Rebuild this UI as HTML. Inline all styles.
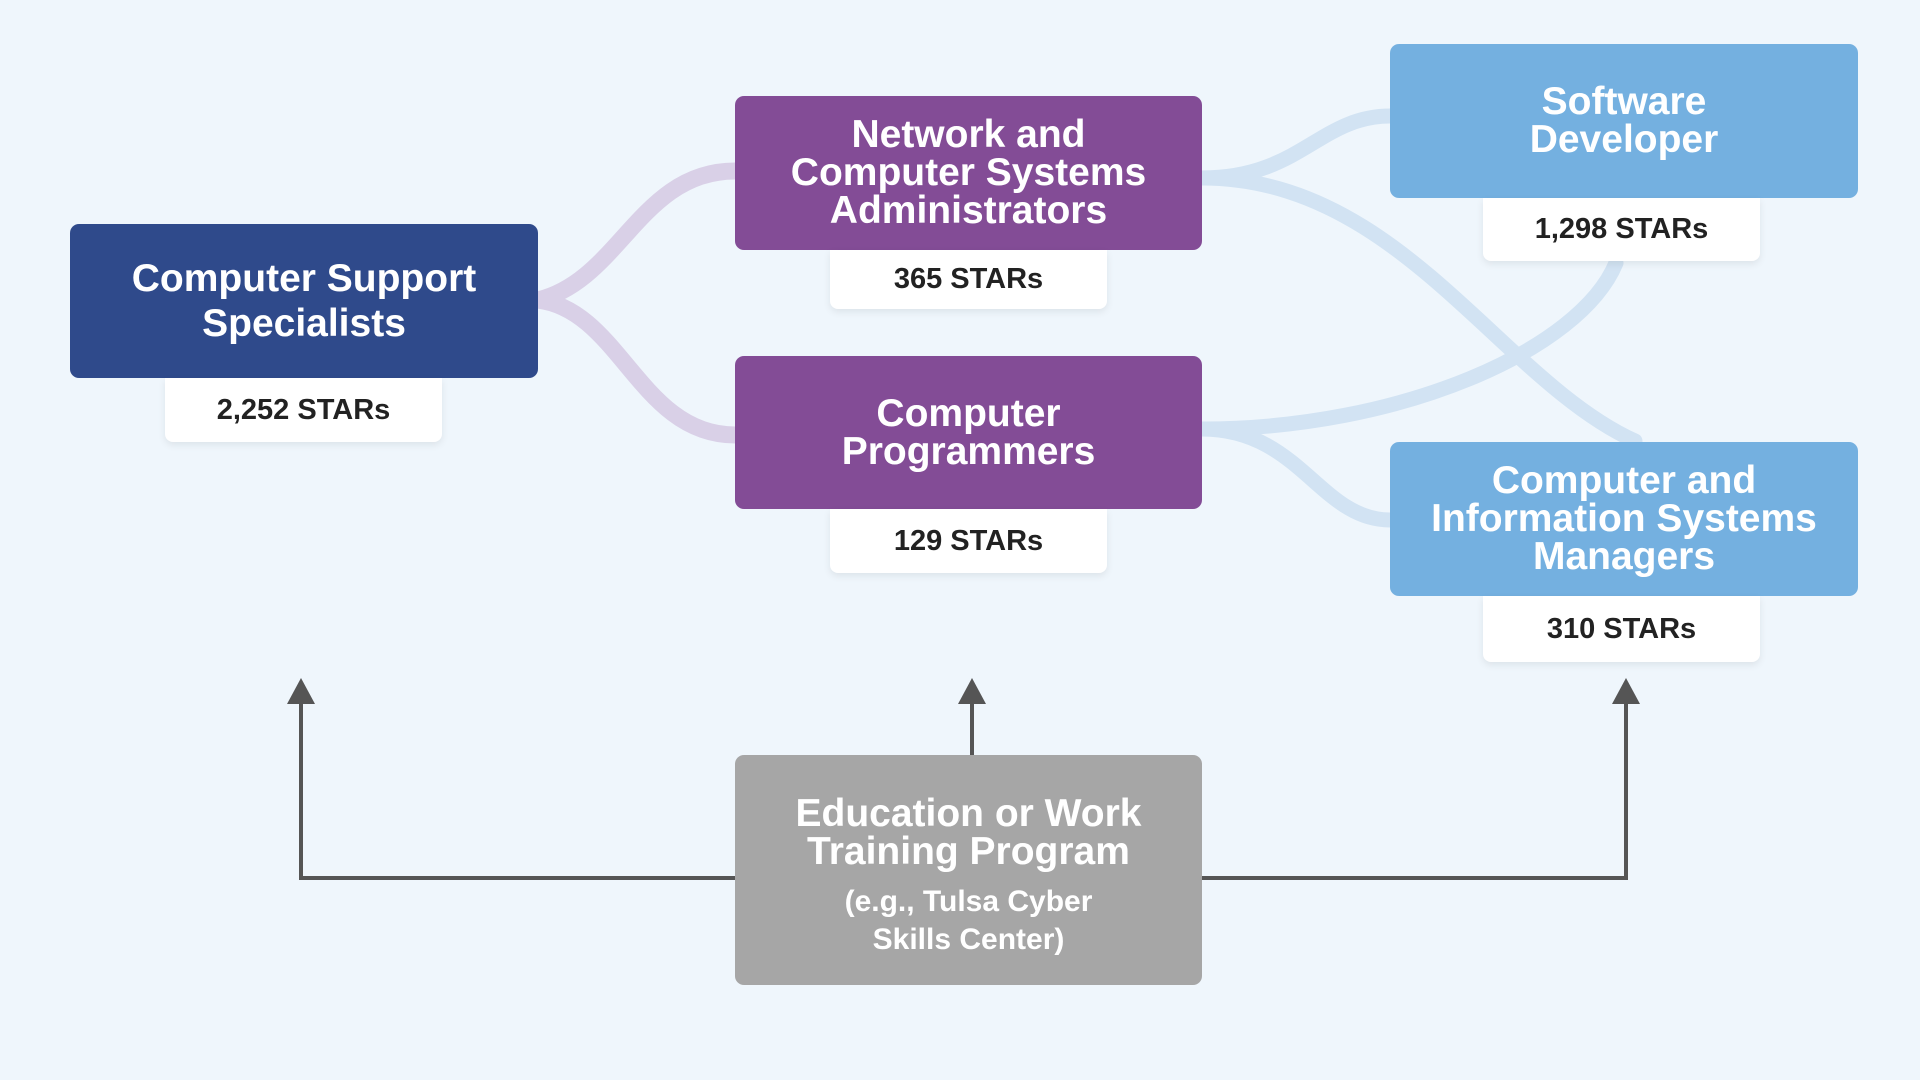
<!DOCTYPE html>
<html><head><meta charset="utf-8"><style>
body{margin:0;width:1920px;height:1080px;background:#eff6fc;position:relative;overflow:hidden;font-family:"Liberation Sans",sans-serif;}
.b{position:absolute;display:flex;align-items:center;justify-content:center;text-align:center;color:#fff;font-weight:bold;font-size:39px;line-height:38px;border-radius:9px;}
.l{position:absolute;background:#fff;border-radius:0 0 8px 8px;display:flex;align-items:center;justify-content:center;font-weight:bold;font-size:29px;color:#222;box-shadow:0 3px 8px rgba(0,0,0,0.08);}
svg{position:absolute;left:0;top:0;}
</style></head><body>
<svg width="1920" height="1080">
<g fill="none" stroke-linecap="round">
<path d="M538 300 C620 280 640 171 735 171" stroke="#d9d0e7" stroke-width="17"/>
<path d="M538 300 C620 310 640 435 735 435" stroke="#d9d0e7" stroke-width="17"/>
<path d="M1202 178 C1300 178 1320 116 1390 116" stroke="#d2e3f3" stroke-width="15"/>
<path d="M1202 178 C1400 178 1500 380 1635 441" stroke="#d2e3f3" stroke-width="15"/>
<path d="M1202 429 C1400 429 1580 350 1616 263" stroke="#d2e3f3" stroke-width="15"/>
<path d="M1202 429 C1300 429 1320 520 1390 520" stroke="#d2e3f3" stroke-width="15"/>
</g>
<g fill="none" stroke="#555" stroke-width="4">
<path d="M735 878 H301 V700"/>
<path d="M972 755 V700"/>
<path d="M1202 878 H1626 V700"/>
</g>
<g fill="#555">
<polygon points="301,678 287,704 315,704"/>
<polygon points="972,678 958,704 986,704"/>
<polygon points="1626,678 1612,704 1640,704"/>
</g>
</svg>
<div class="b" style="left:70px;top:224px;width:468px;height:154px;background:#2f4a8b;line-height:45px">Computer Support<br>Specialists</div>
<div class="l" style="left:165px;top:378px;width:277px;height:64px">2,252 STARs</div>
<div class="b" style="left:735px;top:96px;width:467px;height:154px;background:#834c96">Network and<br>Computer Systems<br>Administrators</div>
<div class="l" style="left:830px;top:250px;width:277px;height:59px">365 STARs</div>
<div class="b" style="left:735px;top:356px;width:467px;height:153px;background:#834c96">Computer<br>Programmers</div>
<div class="l" style="left:830px;top:509px;width:277px;height:64px">129 STARs</div>
<div class="b" style="left:1390px;top:44px;width:468px;height:154px;background:#74b0e0">Software<br>Developer</div>
<div class="l" style="left:1483px;top:198px;width:277px;height:63px">1,298 STARs</div>
<div class="b" style="left:1390px;top:442px;width:468px;height:154px;background:#74b0e0">Computer and<br>Information Systems<br>Managers</div>
<div class="l" style="left:1483px;top:596px;width:277px;height:66px">310 STARs</div>
<div class="b" style="left:735px;top:755px;width:467px;height:230px;background:#a6a6a6;flex-direction:column"><div style="margin-top:14px">Education or Work<br>Training Program</div><div style="font-size:30px;line-height:38px;margin-top:12px">(e.g., Tulsa Cyber<br>Skills Center)</div></div>
</body></html>
